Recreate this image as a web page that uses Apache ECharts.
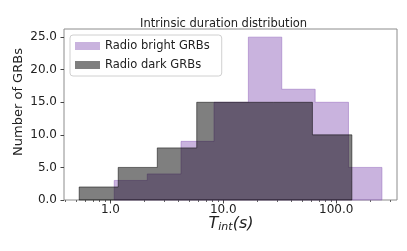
<!DOCTYPE html>
<html>
<head>
<meta charset="utf-8">
<script src="https://cdn.jsdelivr.net/npm/echarts@6/dist/echarts.min.js"></script>
<style>
html,body{margin:0;padding:0;background:#fff;}
#chart{width:407px;height:251px;}
</style>
</head>
<body>
<div id="chart"></div>
<script>
// Data
const titleText = 'Intrinsic duration distribution';
const seriesNames = ['Radio bright GRBs', 'Radio dark GRBs'];
const brightEdges = [1.081, 2.12, 4.22, 8.27, 16.66, 32.9, 65.0, 128.3, 253.7];
const brightCounts = [3, 4, 9, 15, 25, 17, 15, 5];
const darkEdges = [0.529, 1.172, 2.60, 5.81, 12.70, 27.76, 61.5, 137.5];
const darkCounts = [2, 5, 8, 15, 15, 15, 10, 3];
const xTicks = [1, 10, 100];
const xMinorTicks = [0.4, 0.5, 0.6, 0.7, 0.8, 0.9, 2, 3, 4, 5, 6, 7, 8, 9, 20, 30, 40, 50, 60, 70, 80, 90, 200, 300];
const yTicks = [0, 5, 10, 15, 20, 25];
const xRange = [0.388, 345];
const yRange = [0, 26.25];

const brightColor = 'rgba(148,103,189,0.5)';
const darkColor = 'rgba(0,0,0,0.5)';

function histSeries(name, edges, counts, color) {
  const data = counts.map((c, i) => [edges[i], edges[i + 1], c]);
  return {
    name: name,
    type: 'custom',
    itemStyle: { color: color },
    encode: { x: [0, 1], y: 2 },
    data: data,
    renderItem: function (params, api) {
      if (params.dataIndex !== 0) return null;
      // one step-filled outline for the whole histogram
      const pts = [api.coord([edges[0], 0])];
      for (let i = 0; i < counts.length; i++) {
        pts.push(api.coord([edges[i], counts[i]]));
        pts.push(api.coord([edges[i + 1], counts[i]]));
      }
      pts.push(api.coord([edges[edges.length - 1], 0]));
      return {
        type: 'polygon',
        shape: { points: pts },
        style: { fill: color, stroke: color, lineWidth: 1 }
      };
    }
  };
}

const chart = echarts.init(document.getElementById('chart'), null, { renderer: 'canvas' });
const fontFam = 'DejaVu Sans';
chart.setOption({
  animation: false,
  backgroundColor: '#fff',
  textStyle: { fontFamily: fontFam },
  grid: { left: 64, right: 10, top: 29, bottom: 51, show: true, borderColor: '#8c8c8c', borderWidth: 1, backgroundColor: 'transparent' },
  xAxis: [{
    type: 'log', logBase: 10, min: xRange[0], max: xRange[1],
    axisLine: { show: false },
    splitLine: { show: false },
    axisTick: { show: true, length: 3.5, lineStyle: { color: '#444' }, customValues: xTicks },
    axisLabel: { fontSize: 12, color: '#222', fontFamily: fontFam, margin: 4, customValues: xTicks,
      formatter: v => Number(v).toFixed(1) }
  }, {
    type: 'log', logBase: 10, min: xRange[0], max: xRange[1], position: 'bottom',
    axisLine: { show: false }, splitLine: { show: false },
    axisTick: { show: true, length: 2, lineStyle: { color: '#666' }, customValues: xMinorTicks },
    axisLabel: { show: false }
  }],
  yAxis: {
    type: 'value', min: yRange[0], max: yRange[1],
    axisLine: { show: false },
    splitLine: { show: false },
    axisTick: { show: true, length: 3.5, lineStyle: { color: '#444' }, customValues: yTicks },
    axisLabel: { fontSize: 12, color: '#222', fontFamily: fontFam, margin: 7, customValues: yTicks,
      formatter: v => Number(v).toFixed(1) }
  },
  legend: {
    orient: 'vertical', left: 70, top: 35,
    data: [seriesNames[0], seriesNames[1]],
    icon: 'rect', itemWidth: 25, itemHeight: 8, itemGap: 7,
    backgroundColor: 'rgba(255,255,255,0.85)', borderColor: '#d0d0d0', borderWidth: 1, borderRadius: 3,
    padding: [5, 12, 5, 5],
    textStyle: { fontSize: 11.5, color: '#222', fontFamily: fontFam }
  },
  graphic: [
    { type: 'text', left: 230 - 90, top: 18,
      style: { text: titleText, font: '11.5px "DejaVu Sans"', fill: '#222', width: 180, align: 'center' } },
    { type: 'text', x: 19, y: 102, rotation: Math.PI / 2,
      style: { text: 'Number of GRBs', font: '13px "DejaVu Sans"', fill: '#222', align: 'center', verticalAlign: 'middle' } },
    { type: 'text', x: 231, y: 224,
      style: { text: '{t|T}{s|int}{t|(}{t|s}{t|)}', align: 'center', verticalAlign: 'middle', fill: '#222',
        rich: {
          t: { fontSize: 16, fontStyle: 'italic', fontFamily: fontFam, fill: '#222' },
          s: { fontSize: 11, fontStyle: 'italic', fontFamily: fontFam, fill: '#222', padding: [7, 0, 0, 0] }
        } } }
  ],
  series: [
    histSeries(seriesNames[0], brightEdges, brightCounts, brightColor),
    histSeries(seriesNames[1], darkEdges, darkCounts, darkColor)
  ]
});
</script>
</body>
</html>
